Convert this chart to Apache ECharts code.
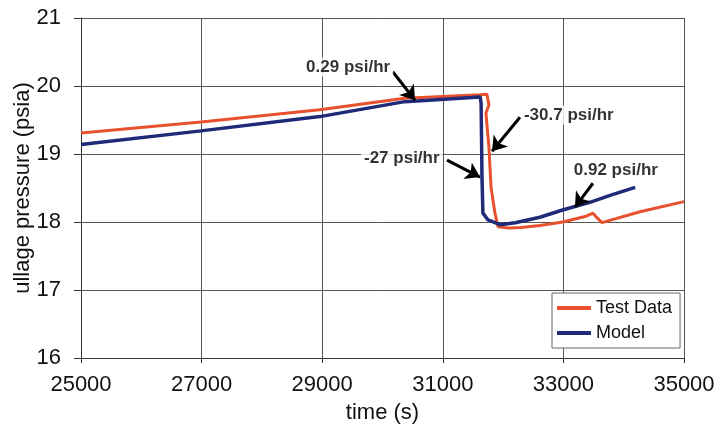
<!DOCTYPE html>
<html>
<head>
<meta charset="utf-8">
<script src="https://cdn.jsdelivr.net/npm/echarts@6/dist/echarts.min.js"></script>
<style>
  html, body { margin: 0; padding: 0; background: #fff; }
  #chart { width: 724px; height: 436px; }
</style>
</head>
<body>
<div id="chart"></div>
<script>
// test data (red)
const testTime = [25000, 26990, 28960, 30370, 31620, 31730, 31765, 31715, 31765, 31800, 31865, 31915, 32100, 32300, 32610, 32990, 33360, 33490, 33560, 33640, 34270, 35000]
const testPress = [19.31, 19.47, 19.65, 19.82, 19.87, 19.88, 19.72, 19.60, 19.10, 18.51, 18.13, 17.93, 17.91, 17.92, 17.95, 18.00, 18.08, 18.13, 18.06, 17.99, 18.15, 18.30]

// model (navy)
const modelTime = [25000, 26990, 28960, 30370, 31620, 31650, 31635, 31650, 31665, 31750, 31865, 31950, 32200, 32610, 33000, 33440, 33800, 34190]
const modelPress = [19.14, 19.34, 19.55, 19.77, 19.84, 19.86, 19.75, 18.66, 18.13, 18.03, 17.99, 17.96, 17.99, 18.07, 18.18, 18.29, 18.40, 18.51]

const xTicks = [25000, 27000, 29000, 31000, 33000, 35000]

// rate labels + arrows (data coords)
const noteText = ['0.29 psi/hr', '-30.7 psi/hr', '-27 psi/hr', '0.92 psi/hr']
const noteX = [29430, 33090, 30320, 33870]
const noteY = [20.28, 19.57, 18.94, 18.76]
const arrowFromX = [30170, 32280, 31070, 33490]
const arrowFromY = [20.21, 19.54, 18.91, 18.57]
const arrowToX = [30540, 31816, 31617, 33192]
const arrowToY = [19.79, 19.04, 18.66, 18.22]

const zip = (a, b) => a.map((v, i) => [v, b[i]])
const font = 'Liberation Sans, Arial, sans-serif'

const chart = echarts.init(document.getElementById('chart'))

chart.setOption({
  animation: false,
  backgroundColor: '#fff',
  textStyle: { fontFamily: font },
  grid: { left: 81, right: 40, top: 18, bottom: 78 },
  legend: {
    data: ['Test Data', 'Model'],
    orient: 'vertical',
    left: 552, top: 293,
    backgroundColor: '#fff',
    borderColor: '#666', borderWidth: 1,
    padding: [6, 8, 6, 5],
    itemGap: 7,
    itemWidth: 34, itemHeight: 4,
    icon: 'rect',
    textStyle: { fontSize: 18, color: '#111', fontFamily: font }
  },
  xAxis: {
    type: 'value', min: 25000, max: 35000,
    name: 'time (s)', nameLocation: 'middle', nameGap: 44,
    nameTextStyle: { fontSize: 22, color: '#111', fontFamily: font },
    axisLine: { lineStyle: { color: '#333', width: 1 } },
    axisTick: { show: true, length: 5, lineStyle: { color: '#333' }, customValues: xTicks },
    axisLabel: { fontSize: 22, color: '#111', margin: 16, customValues: xTicks, formatter: v => String(v) },
    splitLine: { show: true, lineStyle: { color: '#555', width: 1 } }
  },
  yAxis: {
    type: 'value', min: 16, max: 21, interval: 1,
    name: 'ullage pressure (psia)', nameLocation: 'middle', nameGap: 47,
    nameMoveOverlap: false,
    nameTextStyle: { fontSize: 22, color: '#111', fontFamily: font },
    axisLine: { show: true, lineStyle: { color: '#333', width: 1 } },
    axisTick: { show: true, length: 7, lineStyle: { color: '#333' } },
    axisLabel: { fontSize: 22, color: '#111', margin: 20 },
    splitLine: { show: true, lineStyle: { color: '#555', width: 1 } }
  },
  series: [
    {
      name: 'Test Data', type: 'line', data: zip(testTime, testPress),
      showSymbol: false, color: '#e8502e',
      lineStyle: { width: 3, color: '#e8502e' }, z: 3
    },
    {
      name: 'Model', type: 'line', data: zip(modelTime, modelPress),
      showSymbol: false, color: '#1f2a78',
      lineStyle: { width: 3.5, color: '#1f2a78' }, z: 4
    },
    {
      name: 'arrows', type: 'line', data: [], z: 6,
      markLine: {
        silent: true, symbol: ['none', 'arrow'], symbolSize: 14,
        label: { show: false },
        lineStyle: { color: '#000', width: 3, type: 'solid' },
        data: arrowFromX.map((x, i) => [
          { coord: [x, arrowFromY[i]] },
          { coord: [arrowToX[i], arrowToY[i]] }
        ])
      }
    },
    {
      name: 'notes', type: 'scatter', symbolSize: 0, z: 7,
      data: noteX.map((x, i) => [x, noteY[i], noteText[i]]),
      label: {
        show: true, position: 'inside', formatter: p => p.data[2],
        fontSize: 17, fontWeight: 'bold', color: '#000', fontFamily: font,
        textBorderWidth: 0, backgroundColor: '#fff', padding: [1, 3]
      }
    }
  ]
})
</script>
</body>
</html>
